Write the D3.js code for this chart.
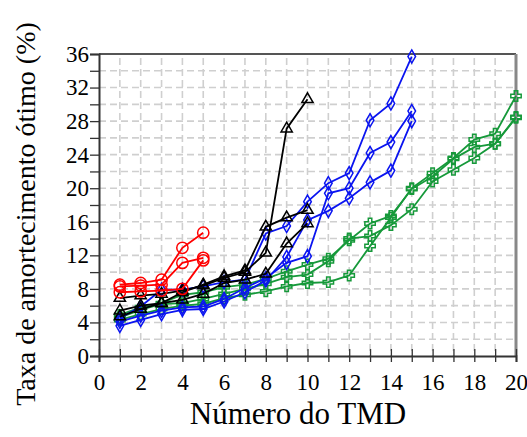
<!DOCTYPE html>
<html>
<head>
<meta charset="utf-8">
<script src="https://cdn.jsdelivr.net/npm/d3@7"></script>
<style>
  body { margin: 0; background: #fff; }
  svg text { font-family: "Liberation Serif", "Times New Roman", serif !important; fill: #000; }
</style>
</head>
<body>
<script>
// Number of tuned mass dampers (TMD) for each group
const tmdRed = [1, 2, 3, 4, 5];
const tmdBlack = [1, 2, 3, 4, 5, 6, 7, 8, 9, 10];
const tmdBlue = [1, 2, 3, 4, 5, 6, 7, 8, 9, 10, 11, 12, 13, 14, 15];
const tmdGreen = [1, 2, 3, 4, 5, 6, 7, 8, 9, 10, 11, 12, 13, 14, 15, 16, 17, 18, 19, 20];

// Optimal damping ratio (%)
const red1 = [8.5, 8.7, 9.1, 12.9, 14.7];
const red2 = [8.3, 8.4, 8.5, 11.1, 11.7];
const red3 = [7.6, 7.7, 7.8, 8.0, 11.4];

const black1 = [6.9, 7.2, 7.4, 7.8, 8.4, 9.3, 10.0, 12.3, 27.1, 30.6];
const black2 = [5.4, 6.0, 6.3, 7.6, 8.5, 9.5, 10.2, 15.4, 16.5, 17.4];
const black3 = [4.7, 5.6, 6.3, 6.7, 7.4, 8.7, 9.1, 9.8, 13.4, 15.8];

const blue1 = [4.5, 5.9, 7.9, 7.9, 8.3, 8.8, 9.1, 14.6, 15.5, 18.4, 20.6, 21.8, 28.1, 30.1, 35.7];
const blue2 = [4.1, 4.8, 5.4, 5.8, 5.9, 6.8, 8.1, 9.3, 11.1, 11.9, 19.4, 20.0, 24.2, 25.5, 29.2];
const blue3 = [3.6, 4.3, 5.0, 5.5, 5.6, 6.5, 7.6, 9.0, 11.8, 16.2, 17.3, 18.8, 20.7, 22.1, 28.0];

const green1 = [4.3, 5.0, 5.6, 6.0, 6.2, 6.9, 7.3, 7.7, 8.3, 8.7, 8.8, 9.6, 13.1, 16.5, 20.0, 21.8, 23.6, 25.8, 26.5, 31.0];
const green2 = [4.6, 5.5, 6.2, 6.3, 6.8, 7.4, 8.0, 8.6, 9.4, 9.7, 11.3, 14.0, 14.3, 15.6, 17.5, 20.8, 22.2, 23.6, 25.3, 28.4];
const green3 = [4.9, 5.8, 6.3, 7.3, 7.6, 8.2, 8.5, 9.2, 10.1, 10.9, 11.6, 13.8, 15.8, 16.7, 19.9, 21.4, 23.5, 24.9, 25.3, 28.5];

const xTickLabels = [0, 2, 4, 6, 8, 10, 12, 14, 16, 18, 20];
const yTickLabels = [0, 4, 8, 12, 16, 20, 24, 28, 32, 36];

const W = 527, H = 437;
const margin = { left: 99, right: 11, top: 54, bottom: 81 };
const serif = '"Liberation Serif", "Times New Roman", serif';

const svg = d3.select("body").append("svg")
  .attr("width", W).attr("height", H)
  .style("background", "#fff");

const x = d3.scaleLinear().domain([0, 20]).range([margin.left, W - margin.right]);
const y = d3.scaleLinear().domain([0, 36]).range([H - margin.bottom, margin.top]);

// dashed grid
const grid = svg.append("g").attr("stroke", "#cfcfcf").attr("stroke-width", 1.6)
  .attr("stroke-dasharray", "7,4");
grid.selectAll("line.v").data(d3.range(1, 20)).join("line")
  .attr("x1", d => x(d)).attr("x2", d => x(d))
  .attr("y1", y(36) + 4).attr("y2", y(0));
grid.selectAll("line.h").data(d3.range(2, 36, 2)).join("line")
  .attr("x1", x(0)).attr("x2", x(20))
  .attr("y1", d => y(d)).attr("y2", d => y(d));

// frame: top and right
svg.append("line").attr("x1", x(0)).attr("x2", x(20)).attr("y1", y(36)).attr("y2", y(36))
  .attr("stroke", "#555").attr("stroke-width", 2);
svg.append("line").attr("x1", x(20)).attr("x2", x(20)).attr("y1", y(36)).attr("y2", y(0))
  .attr("stroke", "#888").attr("stroke-width", 3);

// x axis
const xAxis = svg.append("g").attr("transform", `translate(0,${y(0)})`)
  .call(d3.axisBottom(x).tickValues(d3.range(0, 21)).tickSize(6)
    .tickFormat(d => xTickLabels.includes(d) ? d : ""));
xAxis.attr("font-family", serif);
xAxis.select(".domain").attr("stroke", "#333").attr("stroke-width", 2);
xAxis.selectAll(".tick line").attr("stroke", "#333").attr("stroke-width", 1.3)
  .attr("y1", -7);
xAxis.selectAll(".tick text").attr("font-size", 23).attr("y", 14).attr("dy", "0.85em")
  .style("font-family", serif);

// y axis
const yAxis = svg.append("g").attr("transform", `translate(${x(0)},0)`)
  .call(d3.axisLeft(y).tickValues(d3.range(0, 37, 2)).tickSize(9)
    .tickFormat(d => yTickLabels.includes(d) ? d : ""));
yAxis.attr("font-family", serif);
yAxis.select(".domain").attr("stroke", "#333").attr("stroke-width", 2);
yAxis.selectAll(".tick line").attr("stroke", "#333").attr("stroke-width", 1.3);
yAxis.selectAll(".tick text").attr("font-size", 23).attr("x", -10)
  .style("font-family", serif);

// axis titles
svg.append("text").attr("x", 298).attr("y", 424).attr("text-anchor", "middle")
  .attr("font-size", 31).text("Número do TMD");
svg.append("text").attr("transform", `translate(35,214) rotate(-90)`)
  .attr("text-anchor", "middle").attr("font-size", 28)
  .text("Taxa de amortecimento ótimo (%)");

const line = d3.line().x(d => x(d[0])).y(d => y(d[1]));

function drawGroup(xs, seriesList, color, symbolType, size) {
  const g = svg.append("g");
  seriesList.forEach(vals => {
    const pts = xs.map((t, i) => [t, vals[i]]);
    g.append("path").datum(pts).attr("d", line)
      .attr("fill", "none").attr("stroke", color).attr("stroke-width", 1.8);
    g.selectAll(null).data(pts).join("path")
      .attr("transform", d => `translate(${x(d[0])},${y(d[1])})`)
      .attr("d", d3.symbol().type(symbolType).size(size))
      .attr("fill", "none").attr("stroke", color).attr("stroke-width", 1.5);
  });
}

drawGroup(tmdGreen, [green1, green2, green3], "#16993a", d3.symbolCross, 60);
drawGroup(tmdBlue, [blue1, blue2, blue3], "#0a14f0", d3.symbolDiamond, 50);
drawGroup(tmdBlack, [black1, black2, black3], "#000", d3.symbolTriangle, 55);
drawGroup(tmdRed, [red1, red2, red3], "#ff0000", d3.symbolCircle, 100);
</script>
</body>
</html>
